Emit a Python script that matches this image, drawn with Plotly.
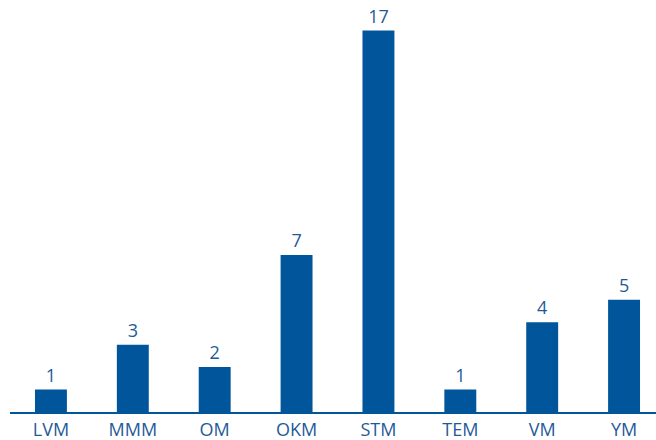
import plotly.graph_objects as go

categories = ["LVM", "MMM", "OM", "OKM", "STM", "TEM", "VM", "YM"]
values = [1, 3, 2, 7, 17, 1, 4, 5]

blue = "#00559b"
fig = go.Figure(go.Bar(
    x=categories, y=values, marker_color=blue, marker_line_width=0,
    text=[str(v) for v in values], textposition="outside",
    textfont=dict(family="Open Sans", size=18, color="#1f5a98"),
    cliponaxis=False, width=0.39,
))
fig.update_layout(
    width=656, height=440, margin=dict(l=10, r=0, t=0, b=28),
    plot_bgcolor="white", paper_bgcolor="white", showlegend=False,
    xaxis=dict(range=[-0.5, 7.39], showline=True, linecolor=blue, linewidth=2,
               ticks="", showgrid=False,
               tickfont=dict(family="Open Sans", size=18, color="#1f5a98")),
    yaxis=dict(range=[0, 18.36], visible=False, showgrid=False),
)
fig.write_html("out.html", config={"displayModeBar": False},
               post_script="document.body.style.margin='0';document.body.style.overflow='hidden';")
